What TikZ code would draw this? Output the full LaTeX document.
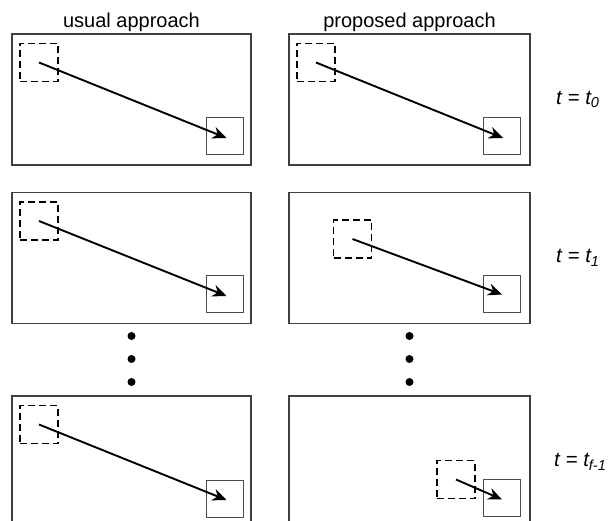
\documentclass[tikz,border=0pt]{standalone}
\usepackage{fontspec}
\setmainfont{Liberation Sans}
\usetikzlibrary{arrows.meta}

% subscript for the time labels
\newcommand{\tsub}[1]{\raisebox{-0.35ex}{\fontsize{14.5}{14.5}\selectfont\itshape #1}}

\tikzset{
  frame/.style={draw=black!75, line width=1.2pt, inner sep=0pt,
    minimum height=131pt},
  searchbox/.style={draw=black, line width=1.7pt, dash pattern=on 7pt off 4pt,
    inner sep=0pt, minimum width=38pt, minimum height=38pt},
  targetbox/.style={draw=black!70, line width=1pt, inner sep=0pt,
    minimum width=37pt, minimum height=37pt},
  motion/.style={line width=1.9pt, -{Stealth[length=14pt,width=12pt,inset=4.5pt]}},
  title/.style={font=\fontsize{20}{24}\selectfont, inner sep=0pt},
  timelabel/.style={font=\fontsize{20.5}{24}\selectfont\itshape, inner sep=0pt, anchor=west},
  dot/.style={circle, fill=black, inner sep=0pt, minimum size=8pt}
}

\begin{document}
\begin{tikzpicture}[x=1pt, y=-1pt]
\useasboundingbox (0,0) rectangle (608,521);
\begin{scope}
\clip (0,0) rectangle (608,521);

% column titles
\node[title] (hl) at (131.5,22) {usual approach};
\node[title] (hr) at (409.5,22) {proposed approach};

% row 1: t = t0
\node[frame, minimum width=239pt] (f1l) at (131.5,99.5) {};
\node[frame, minimum width=241pt] (f1r) at (409.5,99.5) {};
\node[searchbox] (s1l) at (39,62.5) {};
\node[targetbox] (b1l) at (224.5,136.5) {};
\node[searchbox] (s1r) at (316,62.5) {};
\node[targetbox] (b1r) at (502,136.5) {};
\draw[motion] (s1l.center) -- ([shift={(2,1.5)}]b1l.center);
\draw[motion] (s1r.center) -- ([shift={(1,1.5)}]b1r.center);
\node[timelabel] (t0) at (556,99.5) {t = t\tsub{0}};

% row 2: t = t1
\node[frame, minimum width=239pt] (f2l) at (131.5,258) {};
\node[frame, minimum width=241pt] (f2r) at (409.5,258) {};
\node[searchbox] (s2l) at (39,221) {};
\node[targetbox] (b2l) at (224.5,294.5) {};
\node[searchbox] (s2r) at (352.5,239) {};
\node[targetbox] (b2r) at (502,294.5) {};
\draw[motion] (s2l.center) -- ([shift={(2,1.5)}]b2l.center);
\draw[motion] (s2r.center) -- (b2r.center);
\node[timelabel] (t1) at (556,258) {t = t\tsub{1}};

% ellipsis between rows
\node[dot] (d1l) at (131.5,336) {};
\node[dot] (d2l) at (131.5,359) {};
\node[dot] (d3l) at (131.5,382) {};
\node[dot] (d1r) at (409.5,336) {};
\node[dot] (d2r) at (409.5,359) {};
\node[dot] (d3r) at (409.5,382) {};

% row 3: t = t_{f-1}
\node[frame, minimum width=239pt] (f3l) at (131.5,461.5) {};
\node[frame, minimum width=241pt] (f3r) at (409.5,461.5) {};
\node[searchbox] (s3l) at (39,424.5) {};
\node[targetbox] (b3l) at (224.5,498.5) {};
\node[searchbox] (s3r) at (456,479.5) {};
\node[targetbox] (b3r) at (502,498) {};
\draw[motion] (s3l.center) -- ([shift={(2,1.5)}]b3l.center);
\draw[motion] (s3r.center) -- ([shift={(0,1.5)}]b3r.center);
\node[timelabel] (t2) at (554,461.5) {t = t\tsub{f-1}};
\end{scope}
\end{tikzpicture}
\end{document}
